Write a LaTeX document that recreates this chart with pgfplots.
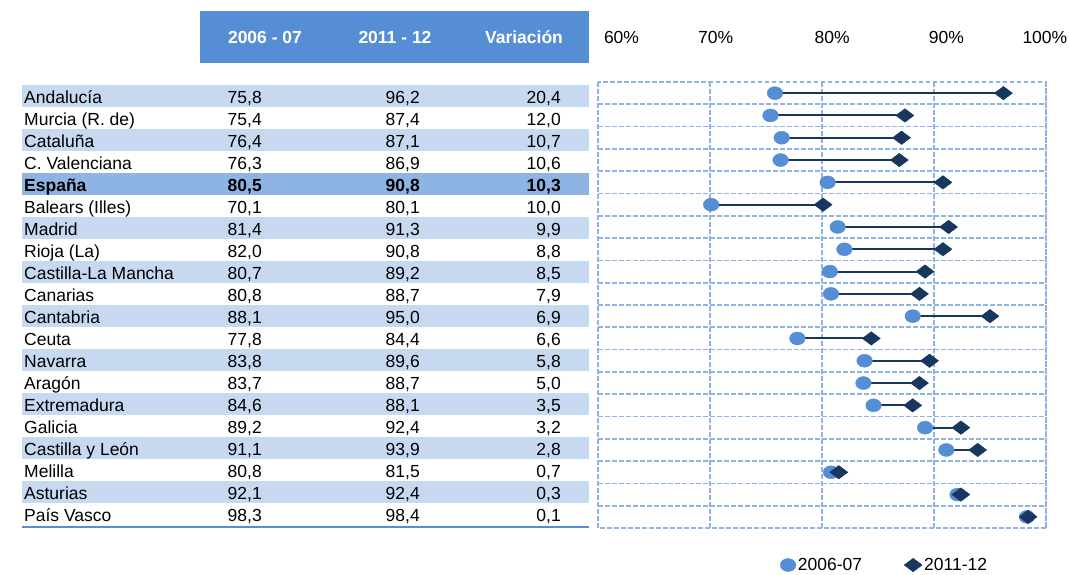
\documentclass[border=0pt]{standalone}
\usepackage{pgfplots}
\pgfplotsset{compat=1.18}
\usepackage{pgfplotstable}
\usepackage{fontspec}
\setmainfont{Liberation Sans}
\definecolor{hdr}{HTML}{558ED5}
\definecolor{band}{HTML}{C6D9F1}
\definecolor{bandS}{HTML}{8DB4E2}
\definecolor{gridc}{HTML}{8EB4E3}
\definecolor{dotA}{HTML}{558ED5}
\definecolor{dotB}{HTML}{17375E}

\pgfplotstableread{
r a b
1 75.8 96.2
2 75.4 87.4
3 76.4 87.1
4 76.3 86.9
5 80.5 90.8
6 70.1 80.1
7 81.4 91.3
8 82.0 90.8
9 80.7 89.2
10 80.8 88.7
11 88.1 95.0
12 77.8 84.4
13 83.8 89.6
14 83.7 88.7
15 84.6 88.1
16 89.2 92.4
17 91.1 93.9
18 80.8 81.5
19 92.1 92.4
20 98.3 98.4
}\data

\begin{document}
\begin{tikzpicture}[font=\fontsize{17.5}{21}\selectfont]
\path[use as bounding box] (0pt,0pt) rectangle (1069pt,-574pt);
\begin{scope}[x=1pt,y=-1pt]
% header
\fill[hdr] (200,11) rectangle (589,63);
\node[anchor=base, text=white, font=\fontsize{17.5}{21}\selectfont\bfseries] at (265,43.5) {2006 - 07};
\node[anchor=base, text=white, font=\fontsize{17.5}{21}\selectfont\bfseries] at (395,43.5) {2011 - 12};
\node[anchor=base, text=white, font=\fontsize{17.5}{21}\selectfont\bfseries] at (524,43.5) {Variación};
% bands
\foreach \i in {0,2,6,8,10,12,14,16,18}{
  \fill[band] (22,{97+22*\i-12}) rectangle (589,{97+22*\i+10});
}
\fill[bandS] (22,{97+22*4-12}) rectangle (589,{97+22*4+10});
% rows
\foreach [count=\i from 0] \n/\a/\b/\v in {
 {Andalucía}/{75,8}/{96,2}/{20,4},
 {Murcia (R. de)}/{75,4}/{87,4}/{12,0},
 {Cataluña}/{76,4}/{87,1}/{10,7},
 {C. Valenciana}/{76,3}/{86,9}/{10,6},
 {España}/{80,5}/{90,8}/{10,3},
 {Balears (Illes)}/{70,1}/{80,1}/{10,0},
 {Madrid}/{81,4}/{91,3}/{9,9},
 {Rioja (La)}/{82,0}/{90,8}/{8,8},
 {Castilla-La Mancha}/{80,7}/{89,2}/{8,5},
 {Canarias}/{80,8}/{88,7}/{7,9},
 {Cantabria}/{88,1}/{95,0}/{6,9},
 {Ceuta}/{77,8}/{84,4}/{6,6},
 {Navarra}/{83,8}/{89,6}/{5,8},
 {Aragón}/{83,7}/{88,7}/{5,0},
 {Extremadura}/{84,6}/{88,1}/{3,5},
 {Galicia}/{89,2}/{92,4}/{3,2},
 {Castilla y León}/{91,1}/{93,9}/{2,8},
 {Melilla}/{80,8}/{81,5}/{0,7},
 {Asturias}/{92,1}/{92,4}/{0,3},
 {País Vasco}/{98,3}/{98,4}/{0,1}}{
  \pgfmathsetmacro\yy{97+22*\i+6.3}
  \ifnum\i=4 \def\ff{\bfseries}\else\def\ff{}\fi
  \node[anchor=base west, inner sep=0pt, font=\fontsize{17.5}{21}\selectfont\ff] at (24,\yy) {\n};
  \node[anchor=base east, inner sep=0pt, font=\fontsize{17.5}{21}\selectfont\ff] at (262,\yy) {\a};
  \node[anchor=base east, inner sep=0pt, font=\fontsize{17.5}{21}\selectfont\ff] at (420,\yy) {\b};
  \node[anchor=base east, inner sep=0pt, font=\fontsize{17.5}{21}\selectfont\ff] at (561,\yy) {\v};
}
\draw[hdr, line width=2pt] (22,527) -- (589,527);
\end{scope}

\begin{axis}[
  at={(598pt,-82pt)}, anchor=north west,
  scale only axis, width=448pt, height=446pt,
  xmin=60, xmax=100, ymin=0.5, ymax=20.5, y dir=reverse,
  xtick={60,70,80,90,100}, xticklabels={},
  extra x ticks={62.1,70.5,80.9,91.1,99.9},
  extra x tick labels={60\%,70\%,80\%,90\%,100\%},
  extra x tick style={grid=none, major tick length=0pt},
  xticklabel pos=upper,
  x tick label style={anchor=base, yshift=38.5pt},
  ytick={1.5,2.5,...,19.5}, yticklabels={},
  ymajorgrids=true, xmajorgrids=true,
  major tick length=0pt, minor tick length=0pt,
  grid style={gridc, line width=1.7pt, dash pattern=on 4.5pt off 2.5pt},
  major grid style={gridc, line width=1.7pt, dash pattern=on 4.5pt off 2.5pt},
  axis line style={gridc, line width=1.7pt, dash pattern=on 4.5pt off 2.5pt},
  clip=false,
  legend style={at={(axis description cs:0.64,-0.083)}, anchor=center, draw=none, fill=none,
     legend columns=2, /tikz/every even column/.append style={column sep=40pt}},
]
\addplot[forget plot, draw=none, mark=none,
  error bars/.cd, x dir=plus, x explicit, error mark=none,
  error bar style={draw=dotB, line width=2pt, solid}]
  table[x=a, y=r, x error expr=\thisrow{b}-\thisrow{a}] {\data};
\addplot[only marks, mark=*, mark size=6.5pt, mark options={fill=dotA, draw=dotA, xscale=1.2, solid}]
  table[x=a, y=r] {\data};
\addlegendentry{2006-07}
\addplot[only marks, mark=diamond*, mark size=9pt, mark options={fill=dotB, draw=dotB, rotate=90, solid}]
  table[x=b, y=r] {\data};
\addlegendentry{2011-12}
\end{axis}
\end{tikzpicture}
\end{document}
